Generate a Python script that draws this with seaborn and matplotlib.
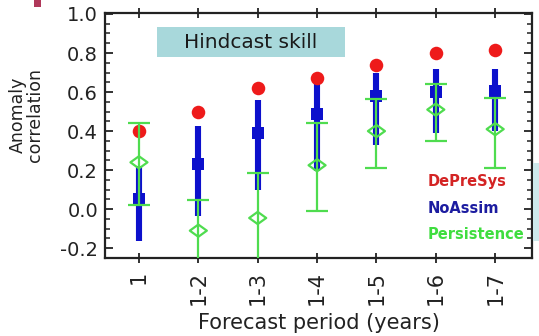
import numpy as np
import matplotlib
matplotlib.use("Agg")
import matplotlib.pyplot as plt
from matplotlib.patches import Rectangle
from matplotlib.path import Path
import seaborn as sns

# Forecast periods (years)
periods = ["1", "1-2", "1-3", "1-4", "1-5", "1-6", "1-7"]

# DePreSys anomaly correlation
depresys = [0.40, 0.50, 0.62, 0.67, 0.74, 0.80, 0.815]

# NoAssim: central value and range
noassim = [0.05, 0.23, 0.39, 0.49, 0.58, 0.60, 0.605]
noassim_lo = [-0.165, -0.035, 0.10, 0.195, 0.33, 0.39, 0.40]
noassim_hi = [0.22, 0.425, 0.56, 0.64, 0.70, 0.72, 0.72]

# Persistence: central value and range
persist = [0.24, -0.11, -0.045, 0.225, 0.40, 0.51, 0.41]
persist_lo = [0.02, -0.35, -0.32, -0.01, 0.21, 0.35, 0.21]
persist_hi = [0.44, 0.045, 0.185, 0.44, 0.565, 0.64, 0.57]

RED = "#ee1a1a"
BLUE = "#0c10cc"
GREEN = "#4fdc4f"

sns.set_theme(style="ticks")
plt.rcParams["font.family"] = ["DejaVu Sans"]
plt.rcParams["axes.unicode_minus"] = False

fig = plt.figure(figsize=(5.39, 3.36), dpi=100)
ax = fig.add_axes([105 / 539, 1 - 258 / 336, 427 / 539, 245 / 336])

xpos = np.arange(len(periods))

# NoAssim ranges (thick bars) and central squares
ax.vlines(xpos, noassim_lo, noassim_hi, color=BLUE, lw=4.4, zorder=2)
sns.scatterplot(x=xpos, y=noassim, marker="s", s=85, color=BLUE,
                edgecolor=BLUE, linewidth=0, ax=ax, zorder=3)

# DePreSys dots
sns.scatterplot(x=xpos, y=depresys, marker="o", s=95, color=RED,
                edgecolor=RED, linewidth=0, ax=ax, zorder=3)

# Persistence ranges with caps
p = np.array(persist)
ax.errorbar(xpos, p, yerr=[p - np.array(persist_lo), np.array(persist_hi) - p],
            fmt="none", ecolor=GREEN, elinewidth=1.6, capsize=8, capthick=1.6,
            zorder=4)

# Persistence hollow diamonds (wide)
diamond = Path([(-1.0, 0.0), (0.0, 0.72), (1.0, 0.0), (0.0, -0.72), (-1.0, 0.0)],
               [Path.MOVETO, Path.LINETO, Path.LINETO, Path.LINETO, Path.CLOSEPOLY])
sns.scatterplot(x=xpos, y=persist, marker=diamond, s=150, facecolor="none",
                edgecolor=GREEN, linewidth=1.6, ax=ax, zorder=5)

ax.set_xlim(-0.572, 6.62)
ax.set_ylim(-0.25, 1.005)

ax.set_xticks(xpos)
ax.set_xticklabels(periods, rotation=90, fontsize=15, color="#222222")
ax.set_yticks(np.arange(-0.2, 1.01, 0.2))
ax.set_yticklabels([f"{v:.1f}" for v in np.arange(-0.2, 1.01, 0.2)],
                   fontsize=14, color="#222222")
ax.set_yticks(np.arange(-0.25, 1.001, 0.05), minor=True)

ax.tick_params(axis="x", which="major", direction="inout", length=7, width=1.3,
               top=True, pad=6, color="#222222")
ax.tick_params(axis="y", which="major", direction="in", length=6, width=1.3,
               right=True, pad=5, color="#222222")
ax.tick_params(axis="y", which="minor", direction="in", length=3.5, width=1.1,
               right=True, color="#222222")

for s in ax.spines.values():
    s.set_linewidth(1.6)
    s.set_color("#222222")

ax.set_xlabel("Forecast period (years)", fontsize=15, color="#222222")
ax.xaxis.set_label_coords(0.5, -0.225)
ax.set_ylabel("Anomaly\ncorrelation", fontsize=12.5, color="#222222",
              linespacing=0.95)
ax.yaxis.set_label_coords(-0.142, 0.585)

# Title box
ax.add_patch(Rectangle((0.122, 0.820), 0.44, 0.123, transform=ax.transAxes,
                       facecolor="#a8d8db", edgecolor="none", zorder=1))
ax.text(0.342, 0.881, "Hindcast skill", transform=ax.transAxes, fontsize=14.5,
        ha="center", va="center", color="#1a1a1a", zorder=2)

# Series labels
for yy, txt, col in [(0.314, "DePreSys", "#d42424"),
                     (0.204, "NoAssim", "#1c1ca0"),
                     (0.094, "Persistence", "#3fdd3f")]:
    ax.text(0.756, yy, txt, transform=ax.transAxes, fontsize=10.5,
            fontweight="bold", color=col, ha="left", va="center", zorder=6)

# Slide fragments at the figure edges
fig.patches.append(Rectangle((34 / 539, 1 - 7 / 336), 7 / 539, 7 / 336,
                             transform=fig.transFigure, facecolor="#b0385a",
                             edgecolor="none"))
fig.patches.append(Rectangle((533 / 539, 1 - 241 / 336), 6 / 539, 78 / 336,
                             transform=fig.transFigure, facecolor="#cde8eb",
                             edgecolor="none"))

fig.savefig("out.png", dpi=100)
